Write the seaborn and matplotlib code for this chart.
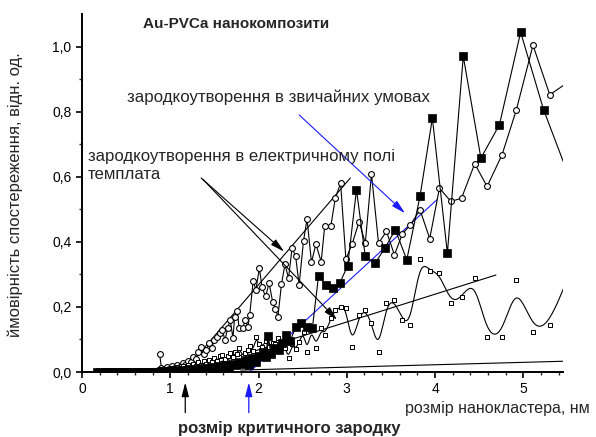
import numpy as np
import pandas as pd
import matplotlib
matplotlib.use("Agg")
import matplotlib.pyplot as plt
import seaborn as sns

sns.set_theme(style="white")
plt.rcParams['font.family'] = ['Liberation Sans', 'DejaVu Sans']

# ---------------- data ----------------
# shared x grid for open circles and open squares (nm)
size_a = [0.88, 0.90, 0.93, 0.96, 0.99, 1.02, 1.05, 1.08, 1.11, 1.14, 1.17, 1.20, 1.23, 1.26,
          1.29, 1.32, 1.35, 1.38, 1.41, 1.44, 1.47, 1.50, 1.53, 1.56, 1.59, 1.62, 1.65, 1.68,
          1.71, 1.73, 1.76, 1.78, 1.82, 1.85, 1.88, 1.90, 1.94, 1.97, 2.01, 2.04, 2.08, 2.12,
          2.16, 2.19, 2.22, 2.26, 2.30, 2.34, 2.38, 2.42, 2.46, 2.51, 2.55, 2.60, 2.65, 2.71,
          2.75, 2.82, 2.87, 2.93, 2.99, 3.06, 3.14, 3.21, 3.28, 3.36, 3.45, 3.54, 3.63, 3.72,
          3.83, 3.94, 4.05, 4.18, 4.30, 4.45, 4.59, 4.76, 4.92, 5.11, 5.30, 5.56]

# probability, electric-field templated nucleation (open circles)
prob_circles = [0.054, 0.012, 0.008, 0.015, 0.010, 0.018, 0.012, 0.022, 0.016, 0.028, 0.020, 0.035, 0.030, 0.045,
                0.040, 0.062, 0.076, 0.055, 0.068, 0.088, 0.075, 0.098, 0.109, 0.119, 0.129, 0.098, 0.134, 0.160,
                0.104, 0.170, 0.186, 0.134, 0.134, 0.160, 0.139, 0.175, 0.281, 0.252, 0.319, 0.260, 0.232, 0.273,
                0.216, 0.194, 0.170, 0.270, 0.331, 0.288, 0.380, 0.357, 0.268, 0.403, 0.470, 0.337, 0.393, 0.339,
                0.449, 0.449, 0.534, 0.580, 0.347, 0.393, 0.462, 0.396, 0.608, 0.396, 0.432, 0.360, 0.424, 0.452,
                0.498, 0.410, 0.565, 0.524, 0.534, 0.640, 0.570, 0.668, 0.804, 1.004, 0.852, 0.900]

# probability, open squares (smoothed by B-spline)
prob_open_sq = [0.004, 0.008, 0.003, 0.010, 0.006, 0.012, 0.008, 0.015, 0.010, 0.018, 0.012, 0.022, 0.015, 0.026,
                0.018, 0.030, 0.022, 0.034, 0.026, 0.038, 0.030, 0.044, 0.034, 0.048, 0.052, 0.040, 0.050, 0.058,
                0.045, 0.062, 0.055, 0.073, 0.050, 0.057, 0.068, 0.080, 0.065, 0.107, 0.085, 0.078, 0.095, 0.078,
                0.090, 0.085, 0.106, 0.093, 0.075, 0.042, 0.085, 0.070, 0.093, 0.124, 0.062, 0.136, 0.075, 0.134,
                0.114, 0.165, 0.190, 0.200, 0.198, 0.078, 0.175, 0.190, 0.152, 0.062, 0.211, 0.220, 0.160, 0.145,
                0.347, 0.310, 0.305, 0.211, 0.229, 0.288, 0.109, 0.109, 0.283, 0.124, 0.145, 0.330]

# ordinary nucleation (filled squares)
size_b = [0.17, 0.20, 0.23, 0.26, 0.29, 0.32, 0.35, 0.38, 0.41, 0.44, 0.47, 0.50, 0.53, 0.56, 0.59, 0.62,
          0.65, 0.68, 0.71, 0.74, 0.77, 0.80, 0.83, 0.86,
          0.90, 0.94, 0.98, 1.02, 1.06, 1.10, 1.14, 1.18, 1.22, 1.26, 1.30, 1.34, 1.38, 1.42, 1.46, 1.50,
          1.54, 1.58, 1.62, 1.66, 1.70, 1.74, 1.78, 1.82, 1.86, 1.89, 1.93, 1.97, 2.01, 2.05, 2.08, 2.11,
          2.14, 2.18, 2.23, 2.27, 2.31, 2.36, 2.42, 2.48, 2.55, 2.61, 2.68, 2.76, 2.84, 2.92, 3.01, 3.11,
          3.21, 3.32, 3.43, 3.55, 3.68, 3.83, 3.97, 4.14, 4.32, 4.52, 4.73, 4.97, 5.23, 5.56]
prob_filled_sq = [0.0, 0.0, 0.0, 0.0, 0.0, 0.0, 0.0, 0.0, 0.0, 0.0, 0.0, 0.0, 0.0, 0.0, 0.0, 0.0,
                  0.0, 0.0, 0.0, 0.0, 0.0, 0.0, 0.0, 0.0,
                  0.002, 0.0, 0.004, 0.002, 0.005, 0.003, 0.006, 0.004, 0.008, 0.006, 0.010, 0.008, 0.012, 0.010,
                  0.015, 0.012, 0.018, 0.015, 0.020, 0.016, 0.025, 0.020, 0.030, 0.024, 0.037, 0.022, 0.042, 0.030,
                  0.050, 0.062, 0.045, 0.112, 0.055, 0.073, 0.068, 0.090, 0.114, 0.095, 0.139, 0.152, 0.139, 0.134,
                  0.295, 0.268, 0.257, 0.273, 0.326, 0.560, 0.355, 0.334, 0.380, 0.437, 0.345, 0.540, 0.780, 0.365,
                  0.970, 0.657, 0.760, 1.044, 0.806, 0.570]

# linear trend lines (x pair, y pair)
trend_field_x, trend_field_y = [1.15, 3.04], [0.0, 0.596]
trend_ordinary_x, trend_ordinary_y = [1.85, 4.02], [-0.012, 0.529]
trend_open_x, trend_open_y = [0.99, 4.69], [-0.018, 0.298]
trend_base_x, trend_base_y = [1.80, 5.45], [0.006, 0.033]

crit_field = 1.17
crit_ordinary = 1.89

x_ticks = [0, 1, 2, 3, 4, 5]
y_ticks = [0.0, 0.2, 0.4, 0.6, 0.8, 1.0]
y_ticklabels = ["0,0", "0,2", "0,4", "0,6", "0,8", "1,0"]


def bspline(xs, ys, n=16):
    px = np.concatenate([[xs[0]] * 2, xs, [xs[-1]] * 2])
    py = np.concatenate([[ys[0]] * 2, ys, [ys[-1]] * 2])
    t = np.linspace(0, 1, n, endpoint=False)
    b0 = (1 - t) ** 3 / 6
    b1 = (3 * t ** 3 - 6 * t ** 2 + 4) / 6
    b2 = (-3 * t ** 3 + 3 * t ** 2 + 3 * t + 1) / 6
    b3 = t ** 3 / 6
    ox, oy = [], []
    for i in range(len(px) - 3):
        ox.append(b0 * px[i] + b1 * px[i + 1] + b2 * px[i + 2] + b3 * px[i + 3])
        oy.append(b0 * py[i] + b1 * py[i + 1] + b2 * py[i + 2] + b3 * py[i + 3])
    return np.concatenate(ox), np.concatenate(oy)


W, H = 596, 437
fig = plt.figure(figsize=(W / 100, H / 100), dpi=100)
fig.patch.set_facecolor("white")
ax = fig.add_axes([82 / W, 1 - 372 / H, (563 - 82) / W, (372 - 14) / H])
ax.set_facecolor("white")

lw = 0.8
# trend lines
for tx, ty, c in [(trend_field_x, trend_field_y, "black"),
                  (trend_open_x, trend_open_y, "black"),
                  (trend_base_x, trend_base_y, "black"),
                  (trend_ordinary_x, trend_ordinary_y, "#1a1aff")]:
    sns.lineplot(x=tx, y=ty, ax=ax, color=c, lw=lw, sort=False, estimator=None, zorder=2)

# B-spline of open squares
bx, by = bspline(np.array(size_a), np.array(prob_open_sq))
sns.lineplot(x=bx, y=by, ax=ax, color="black", lw=lw, sort=False, estimator=None, zorder=2)

# open circles with line
sns.lineplot(x=size_a, y=prob_circles, ax=ax, color="black", lw=lw, sort=False, estimator=None,
             marker="o", markersize=4.2, markerfacecolor="white", markeredgecolor="black",
             markeredgewidth=0.8, zorder=3)

# open squares
sns.scatterplot(x=size_a, y=prob_open_sq, ax=ax, marker="s", s=11, facecolor="white",
                edgecolor="black", linewidth=0.7, zorder=4)

# filled squares with line
sns.lineplot(x=size_b, y=prob_filled_sq, ax=ax, color="black", lw=lw, sort=False, estimator=None,
             marker="s", markersize=5.2, markerfacecolor="black", markeredgecolor="black",
             markeredgewidth=0.5, zorder=5)

ax.set_xlim(0, 5.45)
ax.set_ylim(0, 1.10)
ax.set_xticks(x_ticks)
ax.set_xticklabels([str(v) for v in x_ticks])
ax.set_yticks(y_ticks)
ax.set_yticklabels(y_ticklabels)
ax.set_xticks(np.arange(0, 5.45, 0.2), minor=True)
ax.set_yticks(np.arange(0, 1.1, 0.1), minor=True)
for s in ["top", "right"]:
    ax.spines[s].set_visible(False)
for s in ["left", "bottom"]:
    ax.spines[s].set_linewidth(1.4)
    ax.spines[s].set_color("black")
ax.tick_params(which="major", direction="out", length=4.5, width=1.2, labelsize=10, colors="black",
               left=True, bottom=True, pad=3)
ax.tick_params(which="minor", direction="out", length=2.5, width=1.0, left=True, bottom=True)
ax.set_xlabel("")
ax.set_ylabel("")
ax.grid(False)

# arrows inside plot
head = "-|>,head_length=0.7,head_width=0.18"
ax.annotate("", xy=(3.66, 0.488), xytext=(2.46, 0.79),
            arrowprops=dict(arrowstyle=head, color="#1a1aff", lw=0.8, mutation_scale=12,
                            shrinkA=0, shrinkB=0))
ax.annotate("", xy=(2.29, 0.37), xytext=(1.35, 0.596),
            arrowprops=dict(arrowstyle=head, color="black", lw=0.8, mutation_scale=12,
                            shrinkA=0, shrinkB=0))
ax.annotate("", xy=(2.89, 0.16), xytext=(1.37, 0.592),
            arrowprops=dict(arrowstyle=head, color="black", lw=0.8, mutation_scale=12,
                            shrinkA=0, shrinkB=0))
# critical size arrows below axis
ax.annotate("", xy=(crit_field, -0.032), xytext=(crit_field, -0.125), annotation_clip=False,
            arrowprops=dict(arrowstyle=head, color="black", lw=0.9, mutation_scale=12,
                            shrinkA=0, shrinkB=0))
ax.annotate("", xy=(crit_ordinary, -0.032), xytext=(crit_ordinary, -0.125), annotation_clip=False,
            arrowprops=dict(arrowstyle=head, color="#1a1aff", lw=0.9, mutation_scale=12,
                            shrinkA=0, shrinkB=0))

# texts
def fx(px):
    return px / W

def fy(py):
    return 1 - py / H

fig.text(fx(236), fy(24), "Au-PVCa нанокомпозити", ha="center", va="center",
         weight="bold", size=11)
fig.text(fx(127), fy(97), "зародкоутворення в звичайних умовах", ha="left", va="center", size=12.2)
fig.text(fx(88), fy(157), "зародкоутворення в електричному полі", ha="left", va="center", size=12.1)
fig.text(fx(88), fy(175), "темплата", ha="left", va="center", size=12.1)
fig.text(fx(405), fy(409), "розмір нанокластера, нм", ha="left", va="center", size=11.5)
fig.text(fx(289), fy(429), "розмір критичного зародку", ha="center", va="center",
         weight="bold", size=12)
fig.text(fx(15), fy(195), "ймовірність спостереження, відн. од.", ha="center", va="center",
         rotation=90, size=12)

fig.savefig("out.png", dpi=100, facecolor="white")
